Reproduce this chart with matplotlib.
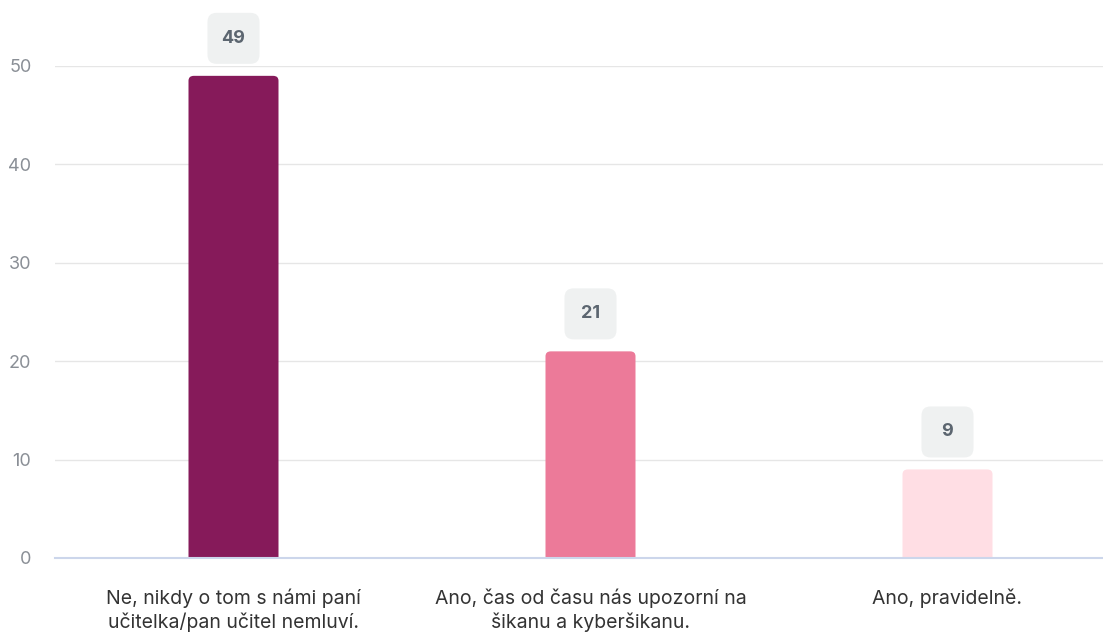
import matplotlib.pyplot as plt
import matplotlib.transforms as mtransforms
from matplotlib.patches import FancyBboxPatch

plt.rcParams['font.family'] = ['Inter', 'DejaVu Sans']

categories = ['Ne, nikdy o tom s námi paní\nučitelka/pan učitel nemluví.',
              'Ano, čas od času nás upozorní na\nšikanu a kyberšikanu.',
              'Ano, pravidelně.']
values = [49, 21, 9]
colors = ['#861a5a', '#ec7a99', '#ffdee4']
yticks = [0, 10, 20, 30, 40, 50]

fig = plt.figure(figsize=(11.03, 6.33), dpi=100)
ax = fig.add_axes([55 / 1103, 1 - 558 / 633, 1071 / 1103, (558 - 66) / 633])

x = list(range(len(values)))
bar_w = 90 / 357

# rounded-top bars: draw rounded boxes extending below zero, clipped by the axes
for xi, v, c in zip(x, values, colors):
    ax.bar(xi, v, width=bar_w, color='none')
    patch = FancyBboxPatch((xi - bar_w / 2, -2), bar_w, v + 2,
                           boxstyle='round,pad=0,rounding_size=0.015',
                           mutation_aspect=0.5 / 0.015,
                           facecolor=c, edgecolor='none', zorder=3)
    ax.add_patch(patch)

# value labels in grey rounded boxes above the bars
for xi, v in zip(x, values):
    trans = fig.dpi_scale_trans + mtransforms.ScaledTranslation(xi, v, ax.transData)
    box = FancyBboxPatch((-0.26, 0.12), 0.52, 0.51,
                         boxstyle='round,pad=0,rounding_size=0.09',
                         facecolor='#eff1f1', edgecolor='none',
                         transform=trans, clip_on=False, zorder=4)
    ax.add_patch(box)
    ax.annotate(str(v), (xi, v), xytext=(0, 27), textcoords='offset points',
                ha='center', va='center', fontsize=13, fontweight='bold',
                color='#5c6670', zorder=5, annotation_clip=False)

ax.set_xlim(-0.5, 2.5)
ax.set_ylim(0, 50)
ax.set_yticks(yticks)
ax.set_xticks(x)
ax.set_xticklabels(categories, fontsize=14, color='#333333', linespacing=1.3)
ax.tick_params(axis='x', length=0, pad=22)
ax.tick_params(axis='y', length=0, pad=17, labelsize=13, labelcolor='#8a8f96')

ax.grid(axis='y', color='#e6e6e6', linewidth=1)
ax.set_axisbelow(True)
for s in ['top', 'right', 'left']:
    ax.spines[s].set_visible(False)
ax.spines['bottom'].set_color('#ccd6eb')
ax.spines['bottom'].set_linewidth(1.5)
ax.spines['bottom'].set_zorder(5)

plt.savefig('out.png', dpi=100)
